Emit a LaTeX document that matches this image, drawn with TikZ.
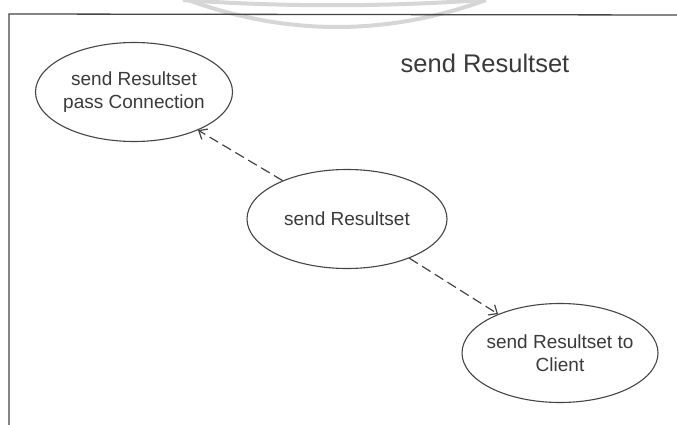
\documentclass[tikz,border=0pt]{standalone}
\usepackage{fontspec}
\setmainfont{Liberation Sans}
\usetikzlibrary{shapes.geometric,arrows.meta}
\definecolor{ink}{HTML}{3A3A3A}
\definecolor{edge}{HTML}{454545}
\definecolor{faint}{HTML}{D6D6D6}
\begin{document}
\begin{tikzpicture}[x=1pt,y=-1pt,
  usecase/.style={ellipse,draw=edge,line width=1.1pt,inner sep=0pt,
    minimum width=#1*2pt,minimum height=99pt},
  usecase/.default=99,
  caption/.style={text=ink,align=center,inner sep=0pt,
    font=\fontsize{19}{23}\selectfont},
  depends/.style={draw=edge,line width=1.2pt,dash pattern=on 10pt off 5pt,
    -{Straight Barb[length=7pt,width=12pt]}}]
  \useasboundingbox (0,0) rectangle (677,425);
  \fill[white] (0,0) rectangle (677,425);

  % faint stamp arcs along the upper edge
  \draw[faint,line width=4pt] (183,0) .. controls (283,7) and (383,7) .. (483,0);
  \draw[faint,line width=4pt] (188,0) .. controls (287,36) and (387,36) .. (486,0);

  % frame (top and left edges)
  \coordinate (fl) at (9,425);
  \coordinate (fc) at (9,14);
  \coordinate (fr) at (677,15);
  \draw[edge,line width=1.3pt] (fl) -- (fc) -- (fr);

  % heading
  \node[text=ink,inner sep=0pt,font=\fontsize{25.5}{30}\selectfont] (title) at (485,63) {send Resultset};

  % use cases
  \node[usecase=98.5] (pass) at (134,92) {};
  \node[caption] at (pass) {send Resultset\\pass Connection};
  \node[usecase=100] (send) at (347,219) {};
  \node[caption] at (send) {send Resultset};
  \node[usecase=98] (client) at (560,353) {};
  \node[caption] at (client) {send Resultset to\\Client};

  % dependencies
  \draw[depends] (send) -- (pass);
  \draw[depends] (send) -- (client);
\end{tikzpicture}
\end{document}
